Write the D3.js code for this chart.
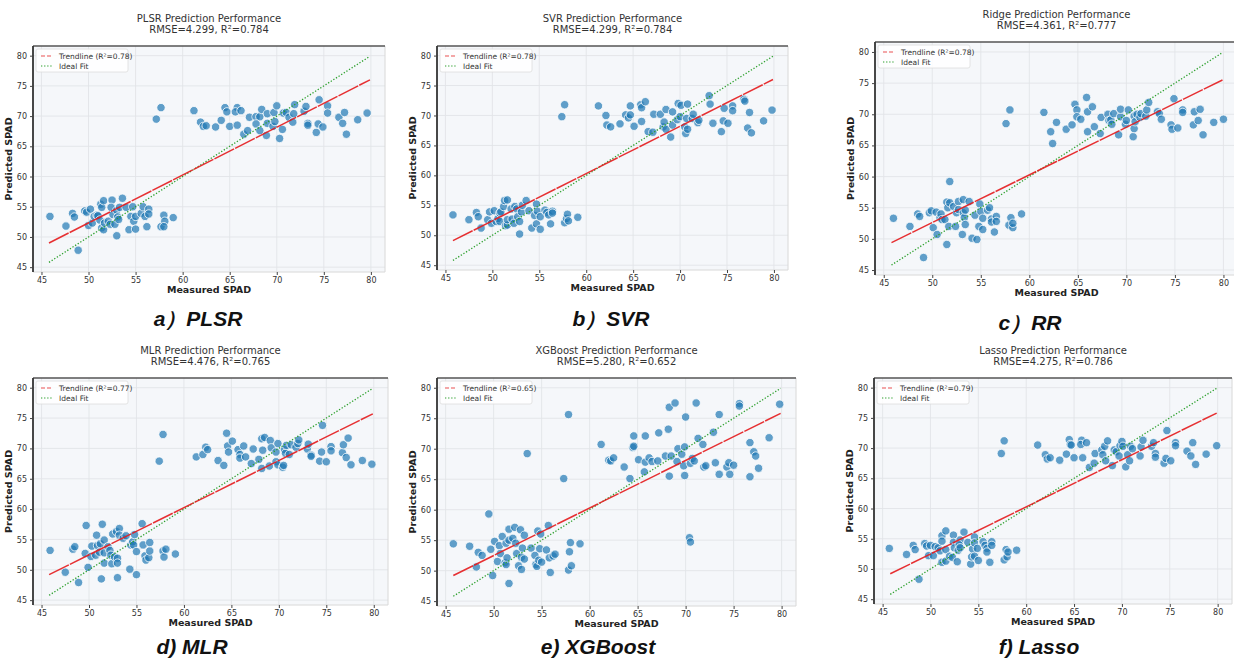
<!DOCTYPE html>
<html>
<head>
<meta charset="utf-8">
<script src="https://cdn.jsdelivr.net/npm/d3@7"></script>
<style>
  body { margin: 0; background: #fff; }
  svg { display: block; font-family: "DejaVu Sans", sans-serif; }
</style>
</head>
<body>
<svg id="chart" width="1234" height="661"></svg>
<script>
// model names, metrics and captions
const models = ['PLSR', 'SVR', 'Ridge', 'MLR', 'XGBoost', 'Lasso']
const rmse = ['4.299', '4.299', '4.361', '4.476', '5.280', '4.275']
const r2 = ['0.784', '0.784', '0.777', '0.765', '0.652', '0.786']
const legendR2 = ['0.78', '0.78', '0.78', '0.77', '0.65', '0.79']
const captions = ['a）PLSR', 'b）SVR', 'c）RR', 'd) MLR', 'e) XGBoost', 'f) Lasso']

// trendline predicted values at the two ends of the measured range
const trendStart = [49.0, 49.1, 49.4, 49.2, 49.2, 49.2]
const trendEnd = [76.0, 76.0, 75.5, 75.7, 75.8, 75.8]
const measuredRange = [45.8, 79.9]
const ticks = [45, 50, 55, 60, 65, 70, 75, 80]

// [measured, predicted] per model
const plsr = [
  [57.2,69.5],[57.7,71.4],[61.2,70.9],[61.9,69.0],[62.2,68.3],[62.5,68.4],[63.5,68.2],[64.1,69.3],[64.5,71.4],[64.7,70.7],
  [65.0,68.3],[65.8,71.4],[65.6,70.7],[65.8,68.5],[66.2,70.9],[66.5,67.0],[67.1,69.8],[66.9,67.6],[67.8,69.9],[68.2,69.9],
  [67.8,68.7],[68.2,67.6],[68.4,71.1],[68.9,66.8],[69.0,70.4],[69.0,68.8],[69.6,68.3],[69.7,70.6],[69.8,69.1],[70.0,71.7],
  [70.3,66.3],[70.6,67.8],[70.7,70.5],[71.0,70.6],[71.3,69.8],[71.7,69.0],[71.8,70.4],[71.9,71.9],[72.9,70.8],[73.1,71.6],
  [73.3,68.8],[73.3,68.5],[74.2,67.3],[74.4,68.7],[74.5,72.7],[74.9,68.2],[75.4,71.7],[75.4,70.5],[76.6,69.8],[77.0,68.8],
  [77.2,70.6],[77.4,67.0],[78.6,69.4],[79.6,70.5],
  [45.9,53.4],[47.6,51.8],[48.3,53.9],[48.5,53.3],[48.9,47.8],[49.6,54.3],[49.8,54.1],[50.2,54.6],[50.0,51.9],[50.4,52.3],
  [50.6,53.4],[50.9,53.6],[51.0,53.5],[51.2,52.8],[51.3,55.4],[51.4,54.9],[51.6,56.0],[51.4,51.5],[51.6,51.2],[51.7,52.3],
  [52.1,52.6],[52.3,52.1],[52.5,56.1],[52.4,54.9],[52.6,53.7],[52.8,52.1],[53.0,54.4],[53.0,50.2],[53.1,53.3],[53.2,52.9],
  [53.3,54.9],[53.6,56.4],[54.0,54.9],[54.3,51.2],[54.5,53.4],[54.7,55.0],[54.8,52.6],[55.0,51.3],[55.0,53.4],[55.6,53.9],
  [55.8,55.0],[56.0,53.4],[56.2,51.7],[56.4,54.6],[56.4,53.8],[57.7,51.7],[58.0,53.6],[58.1,52.6],[58.0,51.7],[59.0,53.2]
]
const svr = [
  [57.4,69.8],[57.7,71.8],[61.3,71.6],[62.1,70.0],[62.2,68.4],[62.6,68.1],[63.6,68.6],[64.2,70.1],[64.5,69.6],[64.7,71.6],
  [64.7,70.1],[65.1,68.2],[65.8,71.8],[65.9,71.3],[65.9,69.0],[66.3,72.3],[66.6,67.3],[67.2,70.2],[67.1,67.2],[67.9,70.2],
  [68.2,68.1],[68.3,68.9],[68.5,67.7],[68.5,71.0],[69.0,66.4],[69.2,68.4],[69.2,70.6],[69.7,69.3],[69.8,72.0],[70.0,69.8],
  [70.1,71.7],[70.5,68.1],[70.6,67.0],[70.7,69.5],[70.8,67.7],[70.8,71.9],[71.3,69.5],[71.4,70.2],[71.9,68.8],[72.0,69.2],
  [73.1,73.3],[73.2,71.9],[73.5,68.7],[74.4,67.3],[74.6,69.1],[74.7,71.2],[75.1,68.7],[75.6,71.6],[75.6,70.8],[76.8,72.7],
  [76.9,72.4],[77.2,67.9],[77.4,70.5],[77.6,67.1],[78.9,69.1],[79.8,70.9],
  [45.8,53.4],[47.5,52.6],[48.3,53.8],[48.5,53.1],[48.8,51.2],[49.5,52.6],[49.7,53.9],[49.9,52.0],[50.2,54.1],[50.4,52.3],
  [50.6,52.8],[50.8,53.7],[50.9,53.9],[50.8,52.3],[51.2,54.8],[51.3,55.8],[51.6,55.9],[51.4,51.6],[51.6,51.7],[51.6,52.6],
  [52.0,54.4],[52.1,52.7],[52.3,52.0],[52.4,54.8],[52.6,54.4],[52.7,53.1],[52.9,52.3],[52.9,50.2],[53.1,53.9],[53.2,55.0],
  [53.6,55.8],[53.9,54.1],[54.2,51.2],[54.5,53.3],[54.7,51.9],[54.7,55.2],[54.8,54.0],[55.1,51.0],[55.1,53.1],[55.6,54.2],
  [55.8,53.8],[56.0,53.4],[56.2,51.9],[56.4,54.0],[56.4,53.7],[57.7,52.1],[57.9,52.8],[58.0,53.5],[58.1,52.4],[59.1,53.0]
]
const ridge = [
  [57.6,68.5],[58.0,70.7],[61.5,70.3],[62.2,67.2],[62.4,65.3],[62.8,68.7],[63.8,67.6],[64.4,68.3],[64.7,71.6],[64.9,70.7],
  [64.9,69.6],[65.3,69.2],[65.9,72.7],[66.0,70.4],[66.0,67.2],[66.5,71.2],[66.7,68.0],[67.3,66.9],[67.4,69.5],[68.1,70.0],
  [68.2,69.0],[68.4,69.1],[68.5,68.4],[68.7,70.1],[69.2,66.7],[69.4,69.6],[69.4,70.8],[69.9,68.4],[70.0,69.0],[70.2,70.7],
  [70.7,66.4],[70.8,67.7],[70.8,69.7],[70.9,68.8],[71.1,70.0],[71.4,69.5],[71.5,70.1],[72.0,69.7],[72.1,70.7],[72.3,71.9],
  [73.2,70.4],[73.4,70.1],[73.6,69.2],[74.6,68.3],[74.7,67.6],[74.9,72.5],[75.3,67.8],[75.8,70.7],[75.8,70.3],[76.9,68.3],
  [77.0,70.4],[77.4,69.0],[77.6,70.8],[77.9,66.7],[79.0,68.7],[80.0,69.2],
  [46.0,53.3],[47.7,52.0],[48.5,54.0],[48.7,53.6],[49.1,47.0],[49.7,54.2],[49.9,54.5],[50.4,54.3],[50.1,51.8],[50.5,50.7],
  [50.8,53.4],[50.9,54.0],[51.0,53.1],[51.3,53.1],[51.5,49.1],[51.5,55.9],[51.6,55.0],[51.8,59.2],[51.8,55.8],[51.7,52.0],
  [52.2,55.2],[52.4,52.0],[52.5,54.2],[52.7,56.0],[52.7,54.7],[53.1,50.7],[53.2,56.3],[53.2,54.2],[53.3,53.4],[53.4,54.6],
  [53.4,52.3],[53.8,56.0],[54.1,50.1],[54.4,53.8],[54.6,49.9],[54.8,52.0],[54.9,55.6],[55.0,54.4],[55.2,53.3],[55.2,51.5],
  [55.7,54.6],[55.9,55.0],[56.1,53.2],[56.1,52.7],[56.4,51.1],[56.6,53.6],[56.6,52.8],[57.9,52.2],[58.1,53.4],[58.3,51.8],
  [58.3,52.5],[59.2,54.0]
]
const mlr = [
  [57.4,67.9],[57.8,72.3],[61.3,68.6],[62.0,69.0],[62.3,70.2],[62.5,69.8],[63.6,68.0],[64.2,67.2],[64.5,72.5],[64.6,70.4],
  [64.7,69.4],[65.1,71.2],[65.7,69.8],[65.9,69.0],[65.9,68.4],[66.3,70.4],[66.5,68.6],[67.1,67.5],[67.3,69.9],[67.9,68.2],
  [68.2,66.7],[68.2,71.6],[68.3,69.7],[68.5,71.8],[69.0,67.1],[69.1,71.3],[69.2,70.1],[69.7,69.4],[69.7,67.8],[69.9,67.3],
  [69.9,70.8],[70.4,66.9],[70.5,67.2],[70.6,69.8],[70.7,69.2],[70.8,70.5],[71.1,69.0],[71.3,70.6],[71.8,70.2],[72.0,70.8],
  [72.1,71.4],[73.0,69.9],[73.1,70.7],[73.4,68.9],[73.4,68.7],[74.3,67.9],[74.5,69.4],[74.6,73.8],[75.0,67.8],[75.5,70.3],
  [75.5,69.6],[76.7,69.3],[76.8,70.6],[77.1,68.5],[77.3,71.7],[77.6,67.3],[78.8,68.0],[79.8,67.4],
  [45.9,53.2],[47.5,49.6],[48.3,53.4],[48.5,53.8],[48.9,47.9],[49.6,52.7],[49.7,57.3],[49.9,50.4],[50.2,52.2],[50.3,53.9],
  [50.7,52.4],[50.8,55.7],[50.9,54.0],[51.1,52.9],[51.2,54.3],[51.3,48.5],[51.4,57.5],[51.6,52.8],[51.6,54.9],[51.6,51.1],
  [52.0,53.8],[52.2,53.2],[52.3,52.4],[52.4,51.0],[52.5,55.9],[52.7,52.1],[52.9,56.3],[53.0,51.9],[53.0,51.1],[53.0,48.7],
  [53.2,56.8],[53.2,55.7],[53.6,55.2],[53.9,55.6],[54.3,50.1],[54.4,54.1],[54.6,54.6],[54.8,55.8],[54.7,54.1],[55.0,53.0],
  [55.0,49.2],[55.6,57.6],[55.7,54.1],[55.9,52.3],[56.0,51.6],[56.3,52.0],[56.4,53.1],[56.4,54.5],[57.8,53.1],[57.9,52.1],
  [58.1,53.4],[59.1,52.6]
]
const xgboost = [
  [57.3,65.1],[57.8,75.6],[61.2,70.7],[62.0,68.1],[62.2,68.0],[62.5,68.5],[63.6,67.0],[64.2,65.1],[64.5,70.2],[64.6,70.4],
  [64.6,72.1],[65.1,68.2],[65.7,66.2],[65.8,72.1],[65.8,67.8],[66.2,68.5],[66.5,67.9],[67.1,68.0],[67.2,72.6],[67.9,68.8],
  [68.2,73.2],[68.3,76.8],[68.3,65.5],[68.5,68.8],[68.9,77.5],[69.1,67.9],[69.2,70.0],[69.6,69.1],[69.8,67.2],[69.9,70.3],
  [69.9,65.6],[70.0,75.2],[70.4,55.4],[70.5,54.7],[70.5,67.6],[70.7,68.4],[70.9,68.0],[71.1,77.5],[71.3,71.7],[71.8,70.7],
  [71.9,67.0],[72.1,67.2],[72.9,72.7],[73.1,67.7],[73.5,65.8],[73.5,75.6],[74.3,67.0],[74.5,67.7],[74.6,65.8],[75.0,67.3],
  [75.6,77.4],[75.6,77.0],[76.7,71.0],[76.7,65.4],[77.1,69.5],[77.3,68.8],[77.6,66.8],[78.7,71.8],[79.8,77.3],
  [45.8,54.4],[47.5,54.0],[48.2,50.6],[48.4,53.0],[48.8,52.5],[49.5,59.3],[49.7,53.5],[49.9,49.2],[50.1,54.8],[50.4,51.5],
  [50.6,54.1],[50.7,52.8],[50.9,55.6],[51.2,51.3],[51.3,54.5],[51.3,51.0],[51.4,52.1],[51.6,56.8],[51.6,47.9],[51.6,55.0],
  [52.0,55.3],[52.2,57.1],[52.3,54.5],[52.4,52.8],[52.6,50.8],[52.8,56.7],[52.9,52.2],[52.9,50.2],[53.0,53.7],[53.2,55.8],
  [53.2,51.9],[53.5,69.2],[53.9,53.7],[54.3,52.5],[54.4,51.0],[54.5,50.7],[54.6,56.5],[54.7,51.7],[54.8,53.6],[54.9,56.0],
  [55.0,51.4],[55.5,53.4],[55.7,57.4],[55.8,52.1],[55.9,49.7],[56.2,52.4],[56.4,52.7],[57.8,50.1],[57.9,53.1],[58.0,54.6],
  [58.1,50.8],[59.0,54.4]
]
const lasso = [
  [57.4,69.1],[57.7,71.2],[61.2,70.5],[62.0,68.9],[62.2,68.2],[62.5,68.4],[63.5,68.0],[64.2,69.0],[64.5,71.4],[64.6,70.6],
  [64.7,70.5],[65.0,68.4],[65.8,71.3],[65.7,70.6],[65.9,68.4],[66.3,70.9],[66.6,66.8],[67.1,67.5],[67.2,69.1],[67.9,69.7],
  [68.0,68.9],[68.2,70.3],[68.3,67.9],[68.5,71.2],[69.0,67.1],[69.2,69.7],[69.4,69.4],[69.7,68.7],[69.8,70.4],[70.0,71.1],
  [70.1,70.3],[70.4,66.9],[70.6,68.9],[70.8,67.9],[70.9,70.3],[71.1,69.9],[71.9,68.7],[72.0,70.2],[72.2,71.3],[73.1,70.3],
  [73.3,70.9],[73.5,69.1],[73.5,68.5],[74.4,67.5],[74.6,68.3],[74.7,72.9],[75.1,67.9],[75.6,70.9],[75.6,70.4],[76.8,69.5],
  [77.2,68.7],[77.4,70.9],[77.7,67.3],[78.8,69.0],[79.9,70.4],
  [45.7,53.4],[47.5,52.4],[48.2,53.9],[48.4,53.2],[48.8,48.3],[49.4,54.2],[49.6,53.8],[50.0,53.9],[49.8,52.2],[50.3,52.2],
  [50.5,53.7],[50.8,53.5],[51.0,53.0],[51.2,55.5],[51.2,54.6],[51.6,56.3],[51.2,51.1],[51.6,51.3],[51.6,53.2],[52.0,52.1],
  [52.3,51.9],[52.4,55.6],[52.4,54.4],[52.5,53.5],[52.8,51.2],[52.9,53.1],[53.1,54.8],[53.0,54.0],[53.1,53.5],[53.5,56.1],
  [53.9,54.4],[54.2,50.8],[54.3,52.0],[54.4,53.3],[54.6,55.3],[54.6,54.3],[54.6,52.1],[54.9,53.4],[55.0,51.4],[55.5,54.5],
  [55.7,53.9],[55.9,53.4],[55.9,52.8],[56.2,51.1],[56.4,54.5],[56.4,53.9],[57.7,51.5],[57.9,53.2],[58.0,52.0],[58.1,52.8],
  [59.0,53.1]
]
const pointSets = [plsr, svr, ridge, mlr, xgboost, lasso]

// panel boxes: [left, top, right, bottom], captions: [centre x, baseline]
const boxes = [
  [33, 46, 385, 272], [437, 46, 788, 270], [875, 42, 1238, 275],
  [33, 378, 388, 605], [437, 378, 796, 606], [874, 378, 1232, 604]
]
const captionPos = [[198, 326], [611, 326], [1030, 330], [192, 654], [598, 654], [1039, 654]]

const svg = d3.select('#chart')

models.forEach((model, i) => {
  const [x0, y0, x1, y1] = boxes[i]
  const x = d3.scaleLinear().domain([44.1, 81.5]).range([x0, x1])
  const y = d3.scaleLinear().domain([44.2, 81.6]).range([y1, y0])
  const g = svg.append('g')

  g.append('rect')
    .attr('x', x0).attr('y', y0)
    .attr('width', x1 - x0).attr('height', y1 - y0)
    .attr('fill', '#f5f7fa')

  // grid
  g.selectAll('.gx').data(ticks).enter().append('line')
    .attr('x1', d => x(d)).attr('x2', d => x(d))
    .attr('y1', y0).attr('y2', y1)
    .attr('stroke', '#e2e4e8').attr('stroke-width', 0.9)
  g.selectAll('.gy').data(ticks).enter().append('line')
    .attr('y1', d => y(d)).attr('y2', d => y(d))
    .attr('x1', x0).attr('x2', x1)
    .attr('stroke', '#e2e4e8').attr('stroke-width', 0.9)

  // spines
  g.append('line').attr('x1', x0).attr('x2', x1).attr('y1', y1).attr('y2', y1).attr('stroke', '#d8d8d8')
  g.append('line').attr('x1', x1).attr('x2', x1).attr('y1', y0).attr('y2', y1).attr('stroke', '#d8d8d8')
  g.append('line').attr('x1', x0).attr('x2', x1).attr('y1', y0).attr('y2', y0).attr('stroke', '#555').attr('stroke-width', 1.6)
  g.append('line').attr('x1', x0).attr('x2', x0).attr('y1', y0).attr('y2', y1).attr('stroke', '#333').attr('stroke-width', 1.8)

  // axes
  const xAxis = d3.axisBottom(x).tickValues(ticks).tickSize(3).tickPadding(2)
  const yAxis = d3.axisLeft(y).tickValues(ticks).tickSize(3).tickPadding(3)
  const gx = g.append('g').attr('transform', `translate(0,${y1})`).call(xAxis)
  const gy = g.append('g').attr('transform', `translate(${x0},0)`).call(yAxis)
  ;[gx, gy].forEach(a => {
    a.select('.domain').remove()
    a.selectAll('line').attr('stroke', '#444')
    a.selectAll('text').attr('font-size', 8).attr('fill', '#333')
      .attr('font-family', '"DejaVu Sans", sans-serif')
  })

  // points
  g.selectAll('circle').data(pointSets[i]).enter().append('circle')
    .attr('cx', d => x(d[0])).attr('cy', d => y(d[1]))
    .attr('r', 4.2)
    .attr('fill', '#1f77b4').attr('fill-opacity', 0.7)
    .attr('stroke', '#fff').attr('stroke-width', 0.8)

  // ideal fit
  g.append('line')
    .attr('x1', x(measuredRange[0])).attr('y1', y(measuredRange[0]))
    .attr('x2', x(measuredRange[1])).attr('y2', y(measuredRange[1]))
    .attr('stroke', '#2ca02c').attr('stroke-width', 1.3).attr('stroke-dasharray', '1.3,1.8')

  // trendline
  g.append('line')
    .attr('x1', x(measuredRange[0])).attr('y1', y(trendStart[i]))
    .attr('x2', x(measuredRange[1])).attr('y2', y(trendEnd[i]))
    .attr('stroke', '#e41a1c').attr('stroke-width', 1.5).attr('stroke-opacity', 0.9)
    .attr('stroke-dasharray', '22,1.2')

  // legend
  const lg = g.append('g').attr('transform', `translate(${x0 + 3},${y0 + 3})`)
  lg.append('rect').attr('width', 92).attr('height', 23).attr('rx', 2)
    .attr('fill', '#fff').attr('fill-opacity', 0.85).attr('stroke', '#ddd').attr('stroke-width', 0.8)
  lg.append('line').attr('x1', 5).attr('x2', 17).attr('y1', 7).attr('y2', 7)
    .attr('stroke', '#e41a1c').attr('stroke-opacity', 0.75).attr('stroke-width', 1.2).attr('stroke-dasharray', '4,2')
  lg.append('line').attr('x1', 5).attr('x2', 17).attr('y1', 17).attr('y2', 17)
    .attr('stroke', '#2ca02c').attr('stroke-width', 1.2).attr('stroke-dasharray', '1.3,1.8')
  lg.append('text').attr('x', 23).attr('y', 9.5).attr('font-size', 7.5).attr('fill', '#333')
    .text(`Trendline (R²=${legendR2[i]})`)
  lg.append('text').attr('x', 23).attr('y', 19.5).attr('font-size', 7.5).attr('fill', '#333')
    .text('Ideal Fit')

  // titles
  const cx = (x0 + x1) / 2
  g.append('text').attr('x', cx).attr('y', y0 - 24).attr('text-anchor', 'middle')
    .attr('font-size', 10).attr('fill', '#333').text(`${model} Prediction Performance`)
  g.append('text').attr('x', cx).attr('y', y0 - 13).attr('text-anchor', 'middle')
    .attr('font-size', 10).attr('fill', '#333').text(`RMSE=${rmse[i]}, R²=${r2[i]}`)

  // axis labels
  g.append('text').attr('x', cx).attr('y', y1 + 21).attr('text-anchor', 'middle')
    .attr('font-size', 9.5).attr('font-weight', 'bold').attr('fill', '#222').text('Measured SPAD')
  g.append('text')
    .attr('transform', `translate(${x0 - 21},${(y0 + y1) / 2}) rotate(-90)`)
    .attr('text-anchor', 'middle')
    .attr('font-size', 9.5).attr('font-weight', 'bold').attr('fill', '#222').text('Predicted SPAD')

  // caption
  svg.append('text')
    .attr('x', captionPos[i][0]).attr('y', captionPos[i][1])
    .attr('text-anchor', 'middle')
    .attr('font-family', '"Liberation Sans", Arial, sans-serif')
    .attr('font-size', 21).attr('font-weight', 'bold').attr('font-style', 'italic')
    .attr('fill', '#111')
    .text(captions[i])
})
</script>
</body>
</html>
